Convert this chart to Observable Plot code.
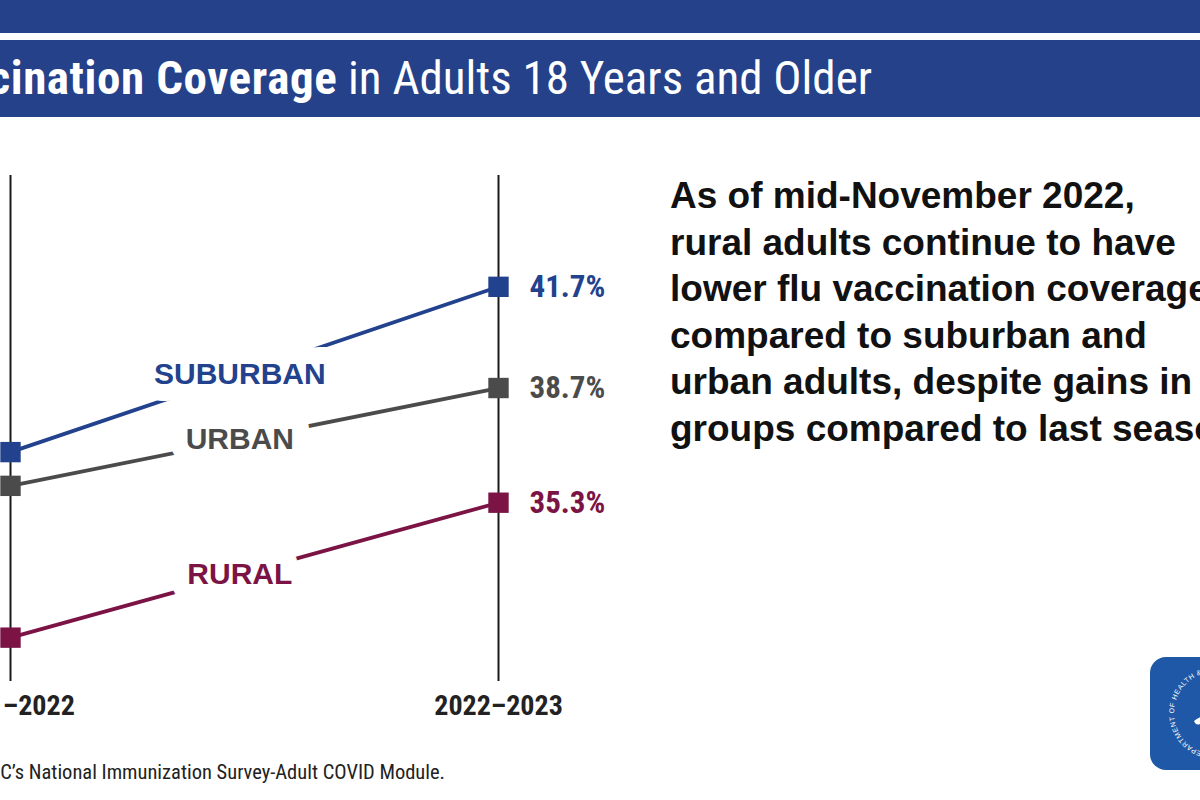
<!DOCTYPE html>
<html>
<head>
<meta charset="utf-8">
<script src="https://cdn.jsdelivr.net/npm/d3@7"></script>
<script src="https://cdn.jsdelivr.net/npm/@observablehq/plot@0.6"></script>
<style>
  html, body { margin: 0; padding: 0; background: #fff; }
  #page { position: relative; width: 1200px; height: 800px; overflow: hidden; background: #fff; }
  #chart { position: absolute; left: 0; top: 0; }
  .band1 { position: absolute; left: 0; top: 0; width: 1200px; height: 33px; background: #24418a; }
  .band2 { position: absolute; left: 0; top: 40px; width: 1200px; height: 77px; background: #24418a; }
  .cond { font-family: "Liberation Sans Narrow", "Arial Narrow", "Roboto Condensed", "DejaVu Sans Condensed", sans-serif; font-stretch: condensed; }
  #title { position: absolute; right: 328px; top: 54px; font-size: 47px; line-height: 47px; color: #fff; white-space: nowrap; }
  #title b { font-weight: 700; letter-spacing: 0.6px; }
  #blurb { position: absolute; left: 670px; top: 173px; font-family: "Liberation Sans", Arial, sans-serif; font-weight: 700; font-size: 37px; line-height: 46.5px; color: #111; white-space: nowrap; }
  #foot { position: absolute; right: 755px; top: 759px; font-size: 20.5px; line-height: 26px; color: #222; white-space: nowrap; }
  #logo { position: absolute; left: 1150px; top: 657px; width: 90px; height: 113px; border-radius: 16px; background: #1f58a6; }
</style>
</head>
<body>
<div id="page">
  <div id="chart"></div>
  <div class="band1"></div>
  <div class="band2"></div>
  <div id="title" class="cond"><b>Flu Vaccination Coverage</b> in Adults 18 Years and Older</div>
  <div id="blurb">As of mid-November 2022,<br>rural adults continue to have<br>lower flu vaccination coverage<br>compared to suburban and<br>urban adults, despite gains in all<br>groups compared to last season.</div>
  <div id="foot" class="cond">Source: CDC’s National Immunization Survey-Adult COVID Module.</div>
  <div id="logo">
    <svg width="90" height="113" viewBox="0 0 90 113">
      <defs><path id="ring" d="M 65 97 A 41 41 0 1 1 65 15 A 41 41 0 1 1 65 97"/></defs>
      <text font-family="Liberation Sans, Arial, sans-serif" font-size="7" fill="#fff" letter-spacing="0.6">
        <textPath href="#ring" startOffset="3%">DEPARTMENT OF HEALTH &amp; HUMAN SERVICES · USA</textPath>
      </text>
      <path d="M 44 64 q 12 -10 40 -8 l 0 5 q -22 -1 -34 6 q -4 2 -6 -3 z" fill="#fff"/>
      <path d="M 56 52 q 10 -6 24 -6 l 0 3 q -12 1 -22 6 z" fill="#fff"/>
    </svg>
  </div>
</div>
<script>
// ---- data ----
const seasons = ["2021–2022", "2022–2023"];
const groups = ["Suburban", "Urban", "Rural"];
const groupLabels = ["SUBURBAN", "URBAN", "RURAL"];
const season2122 = [36.8, 35.8, 31.3];
const season2223 = [41.7, 38.7, 35.3];
const groupColors = ["#23428e", "#4b4b4b", "#7b1445"];

// ---- tables built from the arrays ----
const rows = groups.flatMap((g, i) => [
  {group: g, s: 0, v: season2122[i]},
  {group: g, s: 1, v: season2223[i]}
]);
const labelT = 0.47;
const labelRows = groups.map((g, i) => ({
  group: g,
  label: groupLabels[i],
  s: labelT,
  v: season2122[i] + labelT * (season2223[i] - season2122[i])
}));
const endRows = rows.filter(d => d.s === 1);
const seasonRows = seasons.map((name, i) => ({name, s: i}));

const condFont = "'Liberation Sans Narrow', 'Arial Narrow', 'Roboto Condensed', 'DejaVu Sans Condensed', sans-serif";
const sansFont = "'Liberation Sans', Arial, Helvetica, sans-serif";

const chart = Plot.plot({
  width: 640,
  height: 800,
  marginLeft: 10,
  marginRight: 142,
  marginTop: 175,
  marginBottom: 119,
  style: {background: "transparent", overflow: "visible"},
  x: {domain: [0, 1], axis: null},
  y: {domain: [30, 45], axis: null},
  color: {domain: groups, range: groupColors},
  marks: [
    Plot.ruleX(seasonRows, {x: "s", y1: 30, y2: 45, stroke: "#1a1a1a", strokeWidth: 2}),
    Plot.line(rows, {x: "s", y: "v", z: "group", stroke: "group", strokeWidth: 3.8}),
    Plot.text(labelRows, {
      x: "s", y: "v", text: "label", fill: "group",
      stroke: "white", strokeWidth: 34, strokeLinejoin: "round",
      fontSize: 30, fontWeight: 700, fontFamily: sansFont
    }),
    Plot.dot(rows, {x: "s", y: "v", symbol: "square", r: 11.5, fill: "group"}),
    Plot.text(endRows, {
      x: "s", y: "v", text: d => d.v.toFixed(1) + "%", fill: "group",
      dx: 31, textAnchor: "start", fontSize: 31, fontWeight: 700, fontFamily: condFont
    }),
    Plot.text(seasonRows, {
      x: "s", y: 30, text: "name", dy: 25,
      fill: "#222", fontSize: 28, fontWeight: 700, fontFamily: condFont
    })
  ]
});
document.getElementById("chart").appendChild(chart);
</script>
</body>
</html>
